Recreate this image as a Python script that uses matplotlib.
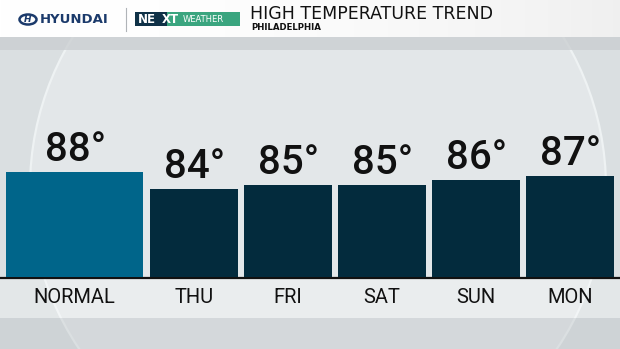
import matplotlib
matplotlib.use("Agg")
import matplotlib.pyplot as plt
from matplotlib.patches import Rectangle, Circle, Ellipse
import numpy as np

# ---- data ----
categories = ["NORMAL", "THU", "FRI", "SAT", "SUN", "MON"]
highs = [88, 84, 85, 85, 86, 87]
title = "HIGH TEMPERATURE TREND"
subtitle = "PHILADELPHIA"

W, H = 620, 349
fig = plt.figure(figsize=(W / 100, H / 100), dpi=100)

# background axes in pixel coordinates (y down)
bg = fig.add_axes([0, 0, 1, 1])
bg.set_xlim(0, W)
bg.set_ylim(H, 0)
bg.axis("off")
bg.add_patch(Rectangle((0, 0), W, H, color="#dadfe1", zorder=0))
bg.add_patch(Circle((318, 188), 288, facecolor="#e3e7e9", edgecolor="none", zorder=1))
bg.add_patch(Circle((318, 188), 288, facecolor="none", edgecolor="#eef2f3", lw=1.6, zorder=1.1))
# label band and footer
bg.add_patch(Rectangle((0, 278), W, 40, facecolor="white", alpha=0.25, zorder=1.5, lw=0))
bg.add_patch(Rectangle((0, 318), W, 31, facecolor="#b8bec2", alpha=0.35, zorder=1.5, lw=0))
# header gray strip
bg.add_patch(Rectangle((0, 37), W, 13, facecolor="#c9cdd0", alpha=0.75, zorder=2, lw=0))
# header white with slight gradient
grad = np.linspace(0, 1, 256)[None, :]
bg.imshow(np.dstack([1 - 0.06 * grad ** 2] * 3), extent=(0, W, 37, 0), aspect="auto", zorder=3)
bg.set_xlim(0, W)
bg.set_ylim(H, 0)

# header logos
bg.add_patch(Ellipse((28, 19.5), 17, 10, angle=0, facecolor="none", edgecolor="#1b3a6b",
                     lw=1.8, zorder=4))
bg.text(28, 19.8, "H", fontsize=6.5, fontweight="bold", fontstyle="italic", color="#1b3a6b",
        va="center", ha="center", zorder=4)
bg.text(40, 19.5, "HYUNDAI", fontsize=9.5, fontweight="bold", color="#1b3a6b",
        va="center", ha="left", zorder=4, family="DejaVu Sans")
bg.plot([126, 126], [8, 31], color="#b0b4b8", lw=0.8, zorder=4)
bg.add_patch(Rectangle((135, 12), 105, 14, facecolor="#3aa57f", zorder=4, lw=0))
bg.add_patch(Rectangle((135, 12), 32, 14, facecolor="#0f3147", zorder=4.1, lw=0))
bg.text(138, 19.3, "NE", fontsize=8.5, fontweight="bold", color="white", va="center", ha="left", zorder=5)
bg.text(162, 19.3, "XT", fontsize=8.5, fontweight="bold", color="white", va="center", ha="left", zorder=5)
bg.text(183, 19.5, "WEATHER", fontsize=6, color="white", va="center", ha="left", zorder=5)
bg.text(250, 14, title, fontsize=12.5, color="#111111", va="center", ha="left", zorder=4,
        family="DejaVu Sans")
bg.text(251, 27.5, subtitle, fontsize=6.2, fontweight="bold", color="#111111", va="center",
        ha="left", zorder=4, family="DejaVu Sans")

# ---- bar chart axes ----
base_px, top_px = 277, 38
ax = fig.add_axes([0, (H - base_px) / H, 1, (base_px - top_px) / H])
ax.set_facecolor("none")
px_per_deg = 4.2
y0 = 63
ax.set_ylim(y0, y0 + (base_px - top_px) / px_per_deg)
ax.set_xlim(0, W)

widths = [137] + [88] * (len(categories) - 1)
centers = [74.5] + [194 + 94 * i for i in range(len(categories) - 1)]
colors = ["#00658a"] + ["#032b3d"] * (len(categories) - 1)
bars = ax.bar(centers, [h - y0 for h in highs], bottom=y0, width=widths, color=colors, zorder=3)
for b, v in zip(bars, highs):
    ax.annotate(f"{v}\u00b0", (b.get_x() + b.get_width() / 2, b.get_height() + y0),
                xytext=(1, 3), textcoords="offset pixels", ha="center", va="bottom",
                fontsize=29, color="#111111", family="Roboto", fontweight="medium")
ax.axis("off")

# baseline and category labels
bg.plot([0, W], [277.5, 277.5], color="#111111", lw=1.6, zorder=6)
for c, lab in zip(centers, categories):
    bg.text(c, 297.5, lab, fontsize=14.5, color="#111111", ha="center", va="center", zorder=6,
            family="Roboto", fontweight="normal")

fig.savefig("out.png", dpi=100)
